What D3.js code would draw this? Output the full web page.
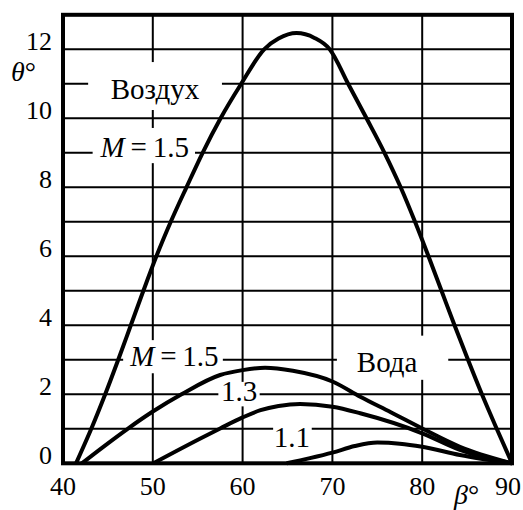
<!DOCTYPE html>
<html>
<head>
<meta charset="utf-8">
<script src="https://cdn.jsdelivr.net/npm/d3@7"></script>
</head>
<body style="margin:0">
<script>
// tick values
var xTicks = [40, 50, 60, 70, 80, 90];
var yTicks = [0, 2, 4, 6, 8, 10, 12];
var xGrid = [50, 60, 70, 80];
var yGrid = [1, 2, 3, 4, 5, 6, 7, 8, 9, 10, 11, 12];

// curves: [beta, theta]
var air15 = [[41.45,0],[43.15,1],[44.7,2],[46.15,3],[47.55,4],[48.95,5],[50.4,6],[52.0,7],[53.75,8],
  [55.55,9],[57.55,10],[59.85,11],[62.4,12],[64,12.31],[66,12.47],[68,12.33],[69.7,12],
  [71.75,11],[73.8,10],[75.8,9],[77.6,8],[79.2,7],[80.7,6],[82.15,5],[83.6,4],[85.1,3],
  [86.65,2],[88.3,1],[90,0]];
var water15 = [[42.1,0],[44.6,0.5],[47.2,1],[50,1.5],[53.2,2],[57.5,2.56],[60,2.7],[62.5,2.77],
  [65.6,2.68],[70,2.37],[73.1,1.93],[76.5,1.48],[80,1.01],[84.2,0.48],[90,0]];
var water13 = [[50.05,0],[55.3,0.72],[57.5,1.01],[60,1.33],[62,1.54],[64,1.66],[66.4,1.72],
  [70,1.64],[73.1,1.45],[80,0.87],[84.2,0.39],[90,0]];
var water11 = [[64.9,0],[67.5,0.15],[70,0.31],[72.5,0.5],[75,0.6],[77.5,0.57],[80,0.48],
  [84.2,0.24],[90,0]];

// curve labels: text, box [b0,b1,t0,t1], anchor beta, baseline theta
var labelText = ["Воздух", "M\u2009=\u20091.5", "M\u2009=\u20091.5", "1.3", "1.1", "Вода"];
var labelBox = [[42.8,57.7,10.24,11.63],[43.3,54.7,8.7,9.72],[46.7,57.8,2.61,3.57],
  [57.3,61.9,1.65,2.36],[63.4,67.7,0.39,1.25],[70.5,82.9,2.42,3.7]];
var labelAt = [[50.25,10.56],[49.1,8.88],[52.4,2.82],[59.6,1.8],[65.5,0.47],[76.1,2.65]];

var W = 523, H = 510;
var x = d3.scaleLinear().domain([40, 90]).range([63, 512]);
var y = d3.scaleLinear().domain([0, 13]).range([463.3, 14.8]);

var svg = d3.select("body").append("svg")
  .attr("width", W)
  .attr("height", H);

// grid
svg.selectAll(".vg").data(xGrid).enter().append("line")
  .attr("x1", d => x(d)).attr("x2", d => x(d))
  .attr("y1", y(13)).attr("y2", y(0))
  .attr("stroke", "#000").attr("stroke-width", 2);
svg.selectAll(".hg").data(yGrid).enter().append("line")
  .attr("x1", x(40)).attr("x2", x(90))
  .attr("y1", d => y(d)).attr("y2", d => y(d))
  .attr("stroke", "#000").attr("stroke-width", 2);

// white boxes behind labels cut the grid
svg.selectAll(".lb").data(labelBox).enter().append("rect")
  .attr("x", d => x(d[0])).attr("width", d => x(d[1]) - x(d[0]))
  .attr("y", d => y(d[3])).attr("height", d => y(d[2]) - y(d[3]))
  .attr("fill", "#fff");

// frame
svg.append("rect")
  .attr("x", x(40)).attr("y", y(13))
  .attr("width", x(90) - x(40)).attr("height", y(0) - y(13))
  .attr("fill", "none").attr("stroke", "#000").attr("stroke-width", 4);

// curves
var line = d3.line()
  .x(d => x(d[0])).y(d => y(d[1]))
  .curve(d3.curveMonotoneX);

[air15, water15, water13, water11].forEach(function(c) {
  svg.append("path")
    .attr("d", line(c))
    .attr("fill", "none")
    .attr("stroke", "#000")
    .attr("stroke-width", 4)
    .attr("stroke-linejoin", "round");
});

// curve labels
labelText.forEach(function(t, i) {
  var tx = svg.append("text")
    .attr("x", x(labelAt[i][0]))
    .attr("y", y(labelAt[i][1]))
    .attr("text-anchor", "middle")
    .attr("font-family", "Liberation Serif")
    .attr("font-size", 29);
  if (t.charAt(0) == "M") {
    tx.append("tspan").attr("font-style", "italic").text("M");
    tx.append("tspan").text(t.slice(1));
  } else {
    tx.text(t);
  }
});

// tick labels
svg.selectAll(".yt").data(yTicks).enter().append("text")
  .attr("x", 52)
  .attr("y", d => y(d) + 1)
  .attr("text-anchor", "end")
  .attr("font-family", "Liberation Serif")
  .attr("font-size", 26)
  .text(d => d);

svg.selectAll(".xt").data(xTicks).enter().append("text")
  .attr("x", d => d == 90 ? x(d) - 4 : x(d))
  .attr("y", 495)
  .attr("text-anchor", "middle")
  .attr("font-family", "Liberation Serif")
  .attr("font-size", 26)
  .text(d => d);

// axis titles
var th = svg.append("text")
  .attr("x", 11).attr("y", 81)
  .attr("font-family", "Liberation Serif")
  .attr("font-size", 28);
th.append("tspan").attr("font-style", "italic").text("θ");
th.append("tspan").text("°");

var be = svg.append("text")
  .attr("x", 454).attr("y", 504)
  .attr("font-family", "Liberation Serif")
  .attr("font-size", 28);
be.append("tspan").attr("font-style", "italic").text("β");
be.append("tspan").text("°");
</script>
</body>
</html>
